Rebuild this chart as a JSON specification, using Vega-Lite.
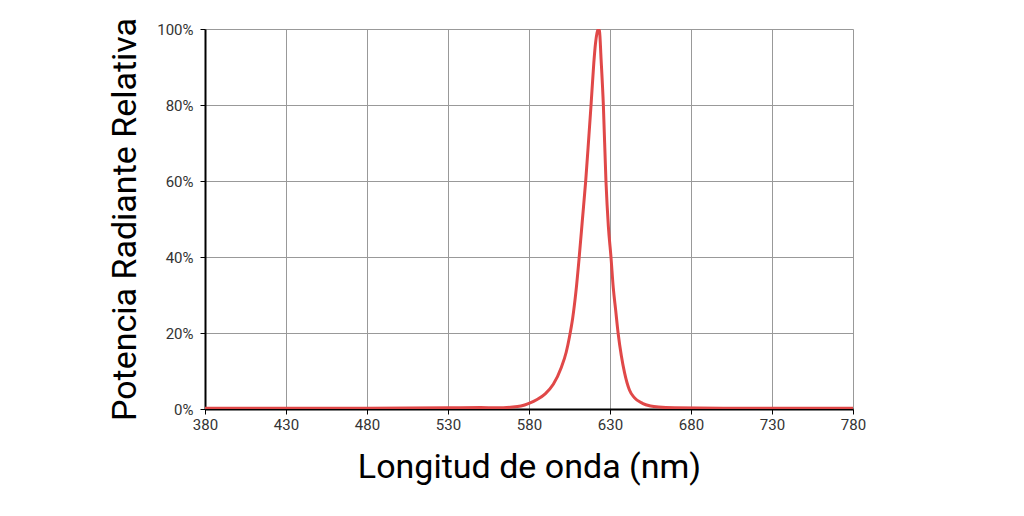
{
  "$schema": "https://vega.github.io/schema/vega-lite/v6.json",
  "autosize": "none",
  "width": 648,
  "height": 380,
  "padding": {"left": 205, "top": 29, "right": 171, "bottom": 107},
  "background": "white",
  "data": {
    "values": [
      {"nm": 380, "p": 0.2}, {"nm": 430, "p": 0.2}, {"nm": 480, "p": 0.2},
      {"nm": 530, "p": 0.3}, {"nm": 550, "p": 0.4}, {"nm": 560, "p": 0.3},
      {"nm": 570, "p": 0.5}, {"nm": 575, "p": 0.8}, {"nm": 580, "p": 1.5},
      {"nm": 585, "p": 2.5}, {"nm": 590, "p": 4.0}, {"nm": 595, "p": 6.5},
      {"nm": 600, "p": 11}, {"nm": 603, "p": 15}, {"nm": 605, "p": 19},
      {"nm": 607, "p": 24}, {"nm": 609, "p": 31}, {"nm": 611, "p": 40},
      {"nm": 613, "p": 50}, {"nm": 615, "p": 60}, {"nm": 617, "p": 72},
      {"nm": 618.3, "p": 80}, {"nm": 620, "p": 91}, {"nm": 621, "p": 96},
      {"nm": 622, "p": 99}, {"nm": 622.8, "p": 100}, {"nm": 623.5, "p": 99.5},
      {"nm": 624.5, "p": 92}, {"nm": 625.9, "p": 80}, {"nm": 627.5, "p": 60},
      {"nm": 629, "p": 48}, {"nm": 630.6, "p": 40}, {"nm": 632, "p": 32},
      {"nm": 633.5, "p": 26}, {"nm": 635, "p": 20}, {"nm": 637, "p": 14},
      {"nm": 639, "p": 9.5}, {"nm": 642, "p": 5}, {"nm": 645, "p": 3},
      {"nm": 650, "p": 1.5}, {"nm": 655, "p": 0.8}, {"nm": 660, "p": 0.5},
      {"nm": 670, "p": 0.3}, {"nm": 700, "p": 0.2}, {"nm": 780, "p": 0.2}
    ]
  },
  "mark": {"type": "line", "color": "#e04848", "strokeWidth": 3, "interpolate": "monotone", "clip": true},
  "encoding": {
    "x": {
      "field": "nm",
      "type": "quantitative",
      "title": "Longitud de onda (nm)",
      "scale": {"domain": [380, 780], "nice": false, "zero": false},
      "axis": {"values": [380, 430, 480, 530, 580, 630, 680, 730, 780], "labelFlush": false, "labelPadding": 3, "titlePadding": 18}
    },
    "y": {
      "field": "p",
      "type": "quantitative",
      "title": "Potencia Radiante Relativa",
      "scale": {"domain": [0, 100], "nice": false},
      "axis": {"values": [0, 20, 40, 60, 80, 100], "labelExpr": "datum.value + '%'", "labelPadding": 7, "labelFlush": false, "titlePadding": 14}
    }
  },
  "config": {
    "view": {"stroke": null},
    "axis": {
      "domainColor": "black",
      "domainWidth": 2,
      "tickColor": "black",
      "tickSize": 5,
      "gridColor": "#999999",
      "gridWidth": 1,
      "labelFont": "Roboto",
      "labelFontSize": 15,
      "labelColor": "#333333",
      "titleFont": "Roboto",
      "titleFontWeight": "normal",
      "titleColor": "black",
      "titleFontSize": 34
    }
  }
}
